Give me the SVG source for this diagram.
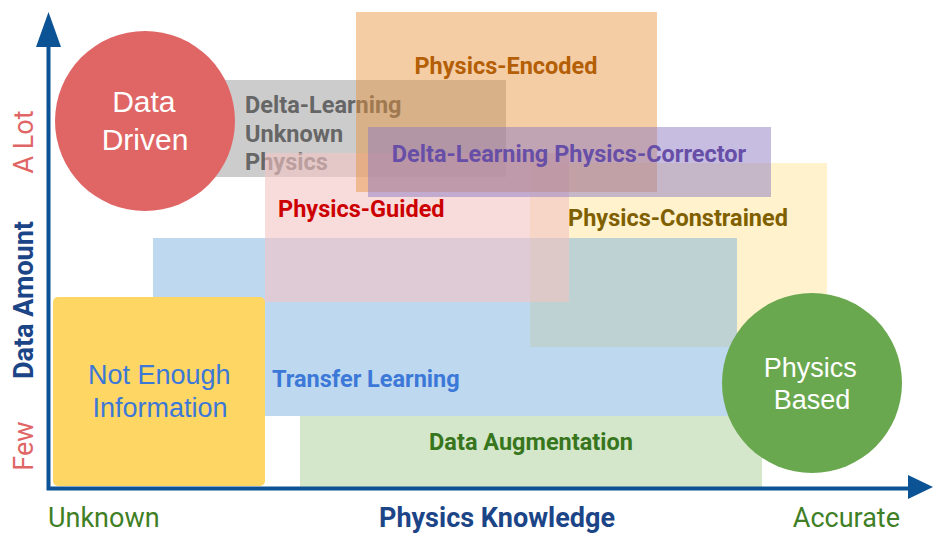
<svg xmlns="http://www.w3.org/2000/svg" width="933" height="534" viewBox="0 0 933 534">
  <style>
    .lbl { font-family: Roboto, "Liberation Sans", sans-serif; font-weight: bold; font-size: 23.5px; }
    .big { font-family: "Liberation Sans", Arial, sans-serif; font-size: 27px; fill: #ffffff; text-anchor: middle; }
    .axis-end { font-family: Roboto, "Liberation Sans", sans-serif; font-size: 27px; }
    .axis-name { font-family: Roboto, "Liberation Sans", sans-serif; font-weight: bold; font-size: 27px; fill: #1c4587; }
    .axis { stroke: #0b5394; stroke-width: 4; fill: none; }
    .head { fill: #0b5394; }
  </style>

  <rect width="933" height="534" fill="#ffffff"/>

  <!-- Physics-Constrained -->
  <g id="physics-constrained">
    <rect x="530" y="163" width="297" height="184" fill="#ffe599" fill-opacity="0.5"/>
    <text class="lbl" x="568" y="226" fill="#7f6000">Physics-Constrained</text>
  </g>

  <!-- Transfer Learning -->
  <g id="transfer-learning">
    <rect x="153" y="238" width="584" height="178" fill="#6fa8dc" fill-opacity="0.45"/>
    <text class="lbl" x="272" y="387" fill="#3c78d8">Transfer Learning</text>
  </g>

  <!-- Data Augmentation -->
  <g id="data-augmentation">
    <rect x="300" y="416" width="462" height="72" fill="#93c47d" fill-opacity="0.4"/>
    <text class="lbl" x="531" y="450" fill="#38761d" text-anchor="middle">Data Augmentation</text>
  </g>

  <!-- Delta-Learning Unknown Physics -->
  <g id="delta-unknown">
    <rect x="210" y="80" width="296" height="97" fill="#999999" fill-opacity="0.5"/>
    <text class="lbl" fill="#666666">
      <tspan x="245" y="113">Delta-Learning</tspan>
      <tspan x="245" y="142">Unknown</tspan>
      <tspan x="245" y="170">Physics</tspan>
    </text>
  </g>

  <!-- Physics-Guided -->
  <g id="physics-guided">
    <rect x="265" y="153" width="304" height="149" fill="#f3c3c3" fill-opacity="0.6"/>
    <text class="lbl" x="278" y="217" fill="#cc0000">Physics-Guided</text>
  </g>

  <!-- Physics-Encoded -->
  <g id="physics-encoded">
    <rect x="356" y="12" width="301" height="180" fill="#e69138" fill-opacity="0.45"/>
    <text class="lbl" x="506" y="74" fill="#b45f06" text-anchor="middle">Physics-Encoded</text>
  </g>

  <!-- Delta-Learning Physics-Corrector -->
  <g id="delta-corrector">
    <rect x="368" y="127" width="403" height="70" fill="#8e7cc3" fill-opacity="0.5"/>
    <text class="lbl" x="569" y="162" fill="#674ea7" text-anchor="middle">Delta-Learning Physics-Corrector</text>
  </g>

  <!-- Not Enough Information -->
  <g id="not-enough">
    <rect x="53" y="297" width="212" height="189" rx="5" fill="#fdd663"/>
    <text class="big" style="fill:#3c78d8">
      <tspan x="163" y="384">Not Enough</tspan>
      <tspan x="160" y="417">Information</tspan>
    </text>
  </g>

  <!-- Data Driven -->
  <g id="data-driven">
    <circle cx="145" cy="121" r="90" fill="#e06666"/>
    <text class="big" style="font-size:30px">
      <tspan x="148" y="112">Data</tspan>
      <tspan x="145" y="150">Driven</tspan>
    </text>
  </g>

  <!-- Physics Based -->
  <g id="physics-based">
    <circle cx="812" cy="383" r="90" fill="#6aa84f"/>
    <text class="big">
      <tspan x="814" y="377">Physics</tspan>
      <tspan x="812" y="409">Based</tspan>
    </text>
  </g>

  <!-- Axes -->
  <g id="axes">
    <polyline class="axis" points="48.5,45 48.5,488.5 910,488.5"/>
    <polygon class="head" points="48.5,12 61,47 36,47"/>
    <polygon class="head" points="933,487 908,475 908,499"/>
  </g>

  <!-- Axis labels -->
  <g id="axis-labels">
    <text class="axis-end" fill="#e06666" text-anchor="middle" transform="translate(33,142) rotate(-90)">A Lot</text>
    <text class="axis-end" fill="#e06666" text-anchor="middle" transform="translate(33,446) rotate(-90)">Few</text>
    <text class="axis-name" text-anchor="middle" transform="translate(33,300) rotate(-90)">Data Amount</text>
    <text class="axis-end" x="48" y="527" fill="#3f7f25">Unknown</text>
    <text class="axis-name" x="497" y="527" text-anchor="middle">Physics Knowledge</text>
    <text class="axis-end" x="900" y="527" fill="#3f7f25" text-anchor="end">Accurate</text>
  </g>
</svg>
